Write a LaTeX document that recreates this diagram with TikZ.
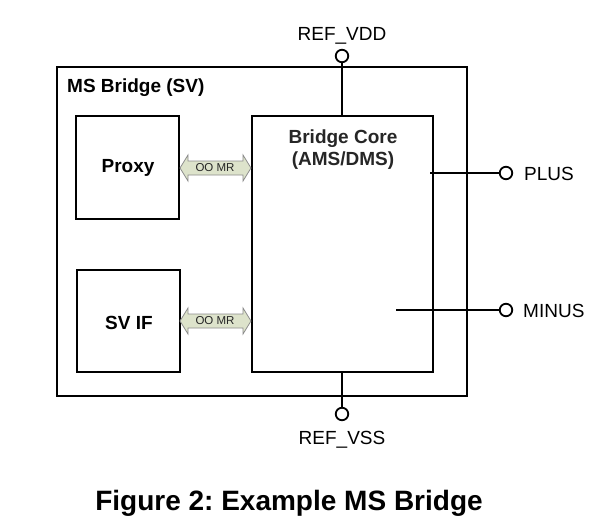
\documentclass[tikz,border=0pt]{standalone}
\usepackage{fontspec}
\setmainfont{Liberation Sans}
\frenchspacing
\begin{document}
\begin{tikzpicture}[x=1pt,y=-1pt,
  box/.style={draw=black,line width=1.8pt,fill=white},
  wire/.style={draw=black,line width=1.6pt},
  pin/.style={circle,draw=black,line width=1.8pt,fill=white,minimum size=12.5pt,inner sep=0pt},
  lbl/.style={font=\fontsize{19}{21}\selectfont,inner sep=0pt},
  blbl/.style={font=\fontsize{19}{22}\selectfont\bfseries,inner sep=0pt,align=center},
  busarrow/.style={draw=black!45,fill=arrowgreen,line width=0.8pt,line join=miter},
  bustext/.style={font=\fontsize{11.5}{12}\selectfont,inner sep=0pt,text=black!85}
]
\definecolor{arrowgreen}{HTML}{DDE3CB}
\useasboundingbox (0,0) rectangle (594,531);
\fill[white] (0,0) rectangle (594,531);

% outer box
\draw[box] (57,67) rectangle (467,396);
\node[blbl,anchor=west] (title) at (67,88) {MS Bridge (SV)};

% inner boxes
\draw[box] (76,116) rectangle (179,219);
\node[blbl] (proxy) at (128,168) {Proxy};
\draw[box] (77,270) rectangle (180,372);
\node[blbl] (svif) at (129,323) {SV IF};
\draw[box] (252,116) rectangle (433,372);
\node[blbl,text=black!85] (core) at (343,150) {Bridge Core\\(AMS/DMS)};

% bus arrows
\foreach \c/\n in {168/a,321/b}{
  \draw[busarrow] (180,\c) -- (188,\c-13) -- (188,\c-7) -- (243,\c-7) -- (243,\c-13)
    -- (251,\c) -- (243,\c+13) -- (243,\c+7) -- (188,\c+7) -- (188,\c+13) -- cycle;
  \node[bustext] (bus\n) at (215,\c) {OO MR};
}

% pins
\node[pin] (vdd) at (342,56) {};
\node[lbl,anchor=south] (vddl) at (342,44) {REF\_VDD};
\coordinate (vddin) at (342,116);
\draw[wire] (vdd.south) -- (vddin);

\node[pin] (vss) at (342,414) {};
\node[lbl,anchor=north] (vssl) at (342,431) {REF\_VSS};
\coordinate (vssin) at (342,372);
\draw[wire] (vssin) -- (vss.north);

\node[pin] (plus) at (506,173) {};
\node[lbl,anchor=west] (plusl) at (524,174) {PLUS};
\coordinate (plusin) at (430,173);
\draw[wire] (plusin) -- (plus.west);

\node[pin] (minus) at (506,310) {};
\node[lbl,anchor=west] (minusl) at (523,311) {MINUS};
\coordinate (minusin) at (396,310);
\draw[wire] (minusin) -- (minus.west);

% caption
\node[font=\fontsize{28}{32}\selectfont\bfseries,inner sep=0pt] (caption) at (289,503) {Figure 2: Example MS Bridge};
\end{tikzpicture}
\end{document}
